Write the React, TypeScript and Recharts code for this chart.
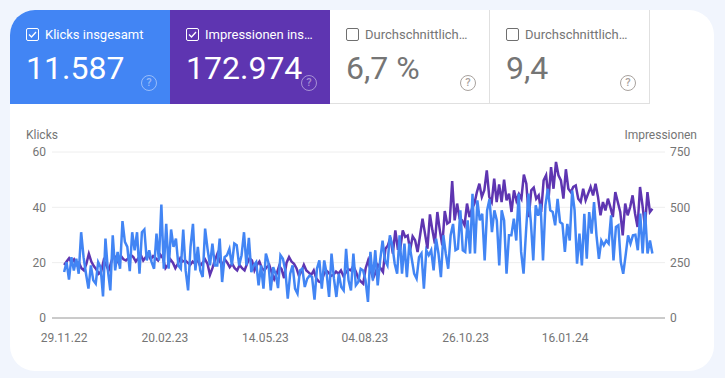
import React from "react";
import { LineChart, Line, XAxis, YAxis, CartesianGrid } from "recharts";

const tickDays = [0, 83, 166, 248, 331, 413];
const tickLabels = ["29.11.22", "20.02.23", "14.05.23", "04.08.23", "26.10.23", "16.01.24"];
const totalDays = 485;

const clicksA = [16.6,20.2,13.9,22,17.2,21.4,16,31,22,16,10.6,19,13.6,12.4,20.2,18.4,7.8,28.7,17.2,10,29.9,17.2,23.9,17.8,35,27.5,25.7,16.9,31,24.5,31,16,31,32,20.8,24.5,20.2,17.8,30.5,20.8,41,17.8,34,17.8,32,25.7,28.7,19,17.8,32,17.2,10,25.7,34,17.2,25.7,17.2,14.8,32.3,25,19,26.9,19];
const clicksB = [19,28.7,13,22,22.7,25,19,26.9,26.3,19,22.7,31,19,29,16.6,19,20.2,11.8,19,10.6,23.3,20.2,10,18.4,16,10.8,22.7,21.4,17.2,7,16,19,10.6,8.8,17.2,17.8,11.2,14.2,15.4,14.8,6.6,17.8,20.8,10.6,20.8,16,7.6,23.3,14.2,7.6,16,11.2,10,25,13.6,10,23.3,11.8,13,17.8,17.2,13.6,5.8,23.9,13.6,24.5];
const clicksC = [11.8,20.8,28,20.8,19,29.9,26.3,19.6,16,29.9,16,26.9,14.8,26.9,21.4,16,14.2,22,23.3,10.6,24.5,22.7,24.5,17.2,28.7,23.3,14.8,29.9,23.3,17.8,29.9,34,24.5,25,38.9,24.5,23.9,35.3,23.3,44.9,23.3,42.5,35.3,37.7,20.8,38.9,43,31,38.9,35.3,19,38.9,35.3,16,29.9,29.9,35.9,28];
const clicksD = [45,23.9,16,31,45,34.7,20.8,40.7,37,41.3,20.8,40.7,46.7,38.9,38.3,33.5,43.1,34.7,34,23.9,34,28,46.1,38.9,19.6,30.5,19,37.7,21.4,38.3,30.5,41.9,29.9,21.4,28,26.3,28,26.9,37.1,20.8,32.9,33.5,20.2,16,22.7,29.9,26.9,29.9,30.1,24.5,37.7,23.3,38.3,23.3,28,23.3];

const imprA = [240,255,270,250,265,240,250,225,215,245,290,255,235,220,200,210,260,240,215,250,285,270,250,280,265,260,270,285,275,255,270,285,260,275,290,265,280,270,260,285,270,225,240,265,250,225,245,270,255,260,250,240,255,245,265,235,250,265,245,195,225,260,290];
const imprB = [255,240,265,250,230,245,225,215,240,225,215,245,270,260,215,240,255,225,215,230,240,205,175,200,235,220,180,250,275,255,245,225,190,210,240,215,205,195,215,180,165,160,195,215,205,190,195,210,200,215,190,205,220,215,235,210,180,165,155,225,260,215,180,205,240,225];
const imprC = [208,313,328,363,291,396,313,313,396,366,373,306,369,351,298,373,449,381,313,468,396,336,479,396,328,483,426,434,619,441,517,449,441,419,517,456,494,517,569,607,547,577,667,547,524,630,524,604,524,625,532,562,479,577,530,560];
const imprD = [539,648,607,456,577,589,539,554,479,622,645,539,682,584,705,645,622,539,672,584,569,592,599,539,524,584,532,562,592,554,607,547,464,524,486,539,501,456,569,524,479,373,517,464,501,554,471,411,592,509,411,569,479,494];

const clicks = [...clicksA, ...clicksB, ...clicksC, ...clicksD];
const impressions = [...imprA, ...imprB, ...imprC, ...imprD];

const toRows = (values: number[]) =>
  values.map((v, i) => ({ day: (i * totalDays) / (values.length - 1), v }));

const FONT = "Roboto, sans-serif";
const TEXT = "#757575";

function Help({ color }: { color: string }) {
  return (
    <div style={{ position: "absolute", right: 13, top: 65, width: 14, height: 14, border: `1.5px solid ${color}`, borderRadius: "50%", color, fontSize: 11, fontWeight: 500, lineHeight: "14px", textAlign: "center" }}>?</div>
  );
}

function Tile({ left, title, value, bg, active }: { left: number; title: string; value: string; bg?: string; active?: boolean }) {
  const fg = active ? "#fff" : TEXT;
  return (
    <div style={{ position: "absolute", left, top: 0, width: 160, height: 94, boxSizing: "border-box", background: bg ?? "#fff", borderRight: active ? "none" : "1px solid #e0e0e0", borderBottom: active ? "none" : "1px solid #e0e0e0", color: fg }}>
      <div style={{ position: "absolute", left: 16, top: 18, width: 13, height: 13, boxSizing: "border-box", border: `1.2px solid ${active ? "#fff" : "#6f6f6f"}`, borderRadius: 2 }}>
        {active && (
          <svg width="11" height="11" viewBox="0 0 11 11" style={{ display: "block" }}>
            <path d="M2 5.5 L4.5 8 L9 3" fill="none" stroke="#fff" strokeWidth="1.3" />
          </svg>
        )}
      </div>
      <div style={{ position: "absolute", left: 35, top: 16, fontSize: 13, lineHeight: "17px", whiteSpace: "nowrap" }}>{title}</div>
      <div style={{ position: "absolute", left: 16, top: 38, fontSize: 32, lineHeight: "40px", whiteSpace: "nowrap" }}>{value}</div>
      <Help color={active ? "rgba(255,255,255,0.45)" : "#a8a29e"} />
    </div>
  );
}

export default function App() {
  return (
    <div style={{ position: "fixed", left: 0, top: 0, width: 725, height: 378, background: "#f1f5fd", fontFamily: FONT, overflow: "hidden" }}>
      <div style={{ position: "absolute", left: 10, top: 10, width: 704, height: 361, background: "#fff", borderRadius: 25, overflow: "hidden" }}>
        <Tile left={0} title="Klicks insgesamt" value="11.587" bg="#4285f4" active />
        <Tile left={160} title="Impressionen ins…" value="172.974" bg="#5e35b1" active />
        <Tile left={320} title="Durchschnittlich…" value="6,7 %" />
        <Tile left={480} title="Durchschnittlich…" value="9,4" />
      </div>
      <div style={{ position: "absolute", left: 26, top: 128, fontSize: 12, lineHeight: "14px", color: TEXT }}>Klicks</div>
      <div style={{ position: "absolute", right: 28, top: 128, fontSize: 12, lineHeight: "14px", color: TEXT }}>Impressionen</div>
      <div style={{ position: "absolute", left: 0, top: 0 }}>
        <LineChart width={725} height={378} margin={{ top: 152, bottom: 0, left: 0, right: 0 }}>
          <CartesianGrid yAxisId="left" vertical={false} stroke="#eeeeee" />
          <XAxis
            dataKey="day"
            type="number"
            domain={[-10, 495.4]}
            ticks={tickDays}
            interval={0}
            height={60}
            allowDataOverflow
            tickLine={false}
            tickSize={0}
            tickMargin={15}
            axisLine={{ stroke: "#9e9e9e", strokeWidth: 1 }}
            tick={{ fill: TEXT, fontSize: 12, fontFamily: FONT }}
            tickFormatter={(d: number) => tickLabels[tickDays.indexOf(d)]}
          />
          <YAxis
            yAxisId="left"
            domain={[0, 60]}
            ticks={[0, 20, 40, 60]}
            width={52}
            tickLine={false}
            tickSize={0}
            tickMargin={6}
            axisLine={false}
            tick={{ fill: TEXT, fontSize: 12, fontFamily: FONT }}
          />
          <YAxis
            yAxisId="right"
            orientation="right"
            domain={[0, 750]}
            ticks={[0, 250, 500, 750]}
            width={60}
            tickLine={false}
            tickSize={0}
            tickMargin={5}
            axisLine={false}
            tick={{ fill: TEXT, fontSize: 12, fontFamily: FONT }}
          />
          <Line yAxisId="right" data={toRows(impressions)} dataKey="v" stroke="#5e35b1" strokeWidth={2.5} dot={false} isAnimationActive={false} />
          <Line yAxisId="left" data={toRows(clicks)} dataKey="v" stroke="#4285f4" strokeWidth={2.5} dot={false} isAnimationActive={false} />
        </LineChart>
      </div>
    </div>
  );
}
